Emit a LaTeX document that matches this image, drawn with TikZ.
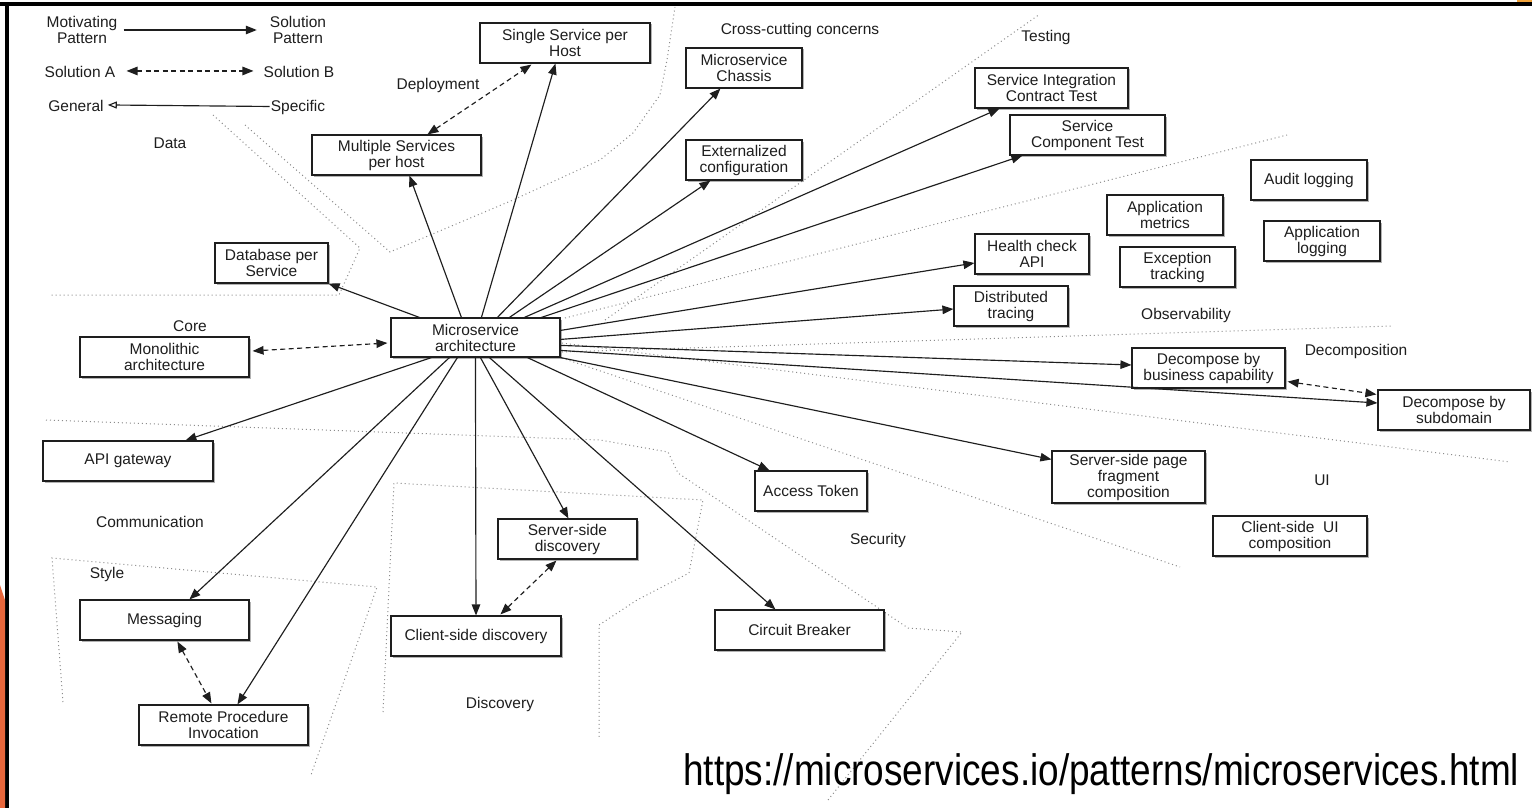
\documentclass[tikz,border=0pt]{standalone}
\usepackage{fontspec}
\setmainfont{Liberation Sans}
\usetikzlibrary{arrows.meta,shadows}
\definecolor{ink}{HTML}{1E1E1E}
\definecolor{zone}{HTML}{8C8C8C}
\definecolor{slideorange}{HTML}{E8673C}
\definecolor{slideyellow}{HTML}{F2A33A}

\begin{document}
\begin{tikzpicture}[x=1pt,y=-1pt,
  every node/.style={font=\fontsize{15.5}{16}\selectfont, text=ink},
  box/.style={draw=ink, line width=1.15pt, fill=white, align=center, inner sep=2pt,
    drop shadow={shadow xshift=1.5pt, shadow yshift=-1.5pt, opacity=0.3, fill=black}},
  bx/.style 2 args={box, minimum width=#1, minimum height=#2},
  tag/.style={inner sep=1pt, align=center},
  zoneline/.style={draw=zone, line width=1pt, dash pattern=on 1pt off 3pt},
  tip/.tip={Triangle[length=11pt,width=8.5pt]},
  link/.style={draw=ink, line width=1.15pt, -tip},
  alt/.style={draw=ink, line width=1.15pt, dash pattern=on 5pt off 3.5pt, tip-tip},
]
\useasboundingbox (0,0) rectangle (1532,808);
\fill[white] (0,0) rectangle (1532,808);

% slide frame
\fill[black] (0,2) rectangle (1532,6);
\fill[black] (5,2) rectangle (9,808);
\fill[slideorange] (0,585) -- (5,600) -- (5,808) -- (0,808) -- cycle;
\fill[slideyellow] (1517,0) rectangle (1532,2);

% zone borders
\draw[zoneline] (213,115) -- (360,248) -- (339,295) -- (50,295);
\draw[zoneline] (245,125) -- (390,252) -- (513,200) -- (600,160) -- (633,133) -- (660,95) -- (667,60) -- (675,7);
\draw[zoneline] (605,320) -- (1040,14);
\draw[zoneline] (565,318) -- (1287,135);
\draw[zoneline] (562,352) -- (1392,326);
\draw[zoneline] (562,343) -- (1510,462);
\draw[zoneline] (562,358) -- (1180,567);
\draw[zoneline] (46,420) -- (600,440) -- (668,452) -- (678,473) -- (908,628) -- (962,632) -- (828,800);
\draw[zoneline] (383,712) -- (394,483) -- (703,500) -- (689,573) -- (637,600) -- (599,625) -- (599,737);
\draw[zoneline] (63,702) -- (52,558) -- (377,587) -- (311,775);

% legend
\node[tag, inner sep=3pt] (mot) at (82,30) {Motivating\\Pattern};
\node[tag, inner sep=3pt] (sol) at (298,30) {Solution\\Pattern};
\node[tag, anchor=base] (sola) at (80,77.5) {Solution A};
\node[tag, anchor=base] (solb) at (299,77.5) {Solution B};
\node[tag, anchor=base] (gen) at (76,111.5) {General};
\node[tag, anchor=base] (spec) at (298,111.5) {Specific};
\draw[link] ([xshift=3pt]mot.east) -- ([xshift=-10pt]sol.west);
\draw[alt] ([xshift=10pt,yshift=1pt]sola.east) -- ([xshift=-9pt,yshift=1pt]solb.west);
\draw[draw=ink, line width=1.15pt, -{Triangle[open,length=9pt,width=7pt]}] ([yshift=1pt]spec.west) -- ([xshift=3pt,yshift=1pt]gen.east);

% zone titles
\node[tag] (tData) at (170,143) {Data};
\node[tag] (tDeploy) at (438,85) {Deployment};
\node[tag] (tCross) at (800,30) {Cross-cutting concerns};
\node[tag] (tTest) at (1046,37) {Testing};
\node[tag] (tCore) at (190,326) {Core};
\node[tag] (tComm) at (150,522) {Communication};
\node[tag] (tStyle) at (107,574) {Style};
\node[tag] (tDisc) at (500,704) {Discovery};
\node[tag] (tSec) at (878,540) {Security};
\node[tag] (tUI) at (1322,480) {UI};
\node[tag] (tObs) at (1186,315) {Observability};
\node[tag] (tDecomp) at (1356,351) {Decomposition};

% patterns
\node[bx={169pt}{39pt}] (ms) at (475.5,337.5) {Microservice\\architecture};
\node[bx={113pt}{40pt}] (db) at (271.5,263) {Database per\\Service};
\node[bx={169pt}{40pt}] (mono) at (164.5,357) {Monolithic\\architecture};
\node[bx={169pt}{40pt}] (multi) at (396.5,155) {Multiple Services\\per host};
\node[bx={170pt}{40pt}] (ssh) at (565,43) {Single Service per\\Host};
\node[bx={116pt}{40pt}] (chassis) at (744,68) {Microservice\\Chassis};
\node[bx={116pt}{40pt}] (extcfg) at (744,160) {Externalized\\configuration};
\node[bx={153pt}{40pt}] (sict) at (1051.5,88) {Service Integration\\Contract Test};
\node[bx={155pt}{40pt}] (sct) at (1087.5,135) {Service\\Component Test};
\node[bx={116pt}{40pt}] (audit) at (1309,180) {Audit logging};
\node[bx={116pt}{40pt}] (appmet) at (1165,215) {Application\\metrics};
\node[bx={116pt}{40pt}] (applog) at (1322,241) {Application\\logging};
\node[bx={114pt}{40pt}] (health) at (1032,254) {Health check\\API};
\node[bx={115pt}{40pt}] (exc) at (1177.5,267) {Exception\\tracking};
\node[bx={114pt}{40pt}] (dist) at (1011,306) {Distributed\\tracing};
\node[bx={153pt}{40pt}] (dbc) at (1208.5,368) {Decompose by\\business capability};
\node[bx={152pt}{40pt}] (dsd) at (1454,410) {Decompose by\\subdomain};
\node[bx={153pt}{52pt}] (sspf) at (1128.5,477) {Server-side page\\fragment\\composition};
\node[bx={154pt}{40pt}] (csui) at (1290,536) {Client-side~ UI\\composition};
\node[bx={112pt}{40pt}] (access) at (811,491) {Access Token};
\node[bx={169pt}{40pt}] (circuit) at (799.5,630) {Circuit Breaker};
\node[bx={139pt}{40pt}] (ssd) at (567.5,539) {Server-side\\discovery};
\node[bx={170pt}{40pt}] (csd) at (476,636) {Client-side discovery};
\node[bx={170pt}{40pt}] (api) at (128,461) {API gateway};
\node[bx={169pt}{40pt}] (msg) at (164.5,620) {Messaging};
\node[bx={169pt}{40pt}] (rpi) at (223.5,725) {Remote Procedure\\Invocation};

% links from the microservice architecture
\draw[link] ([xshift=29pt]ms.north west) -- (db.south east);
\draw[link] ([xshift=71pt]ms.north west) -- ([xshift=98pt]multi.south west);
\draw[link] ([xshift=91pt]ms.north west) -- ([xshift=76pt]ssh.south west);
\draw[link] ([xshift=107pt]ms.north west) -- ([xshift=35pt]chassis.south west);
\draw[link] ([xshift=119pt]ms.north west) -- ([xshift=25pt]extcfg.south west);
\draw[link] ([xshift=134pt]ms.north west) -- ([xshift=25pt]sict.south west);
\draw[link] ([xshift=151pt]ms.north west) -- ([xshift=13pt]sct.south west);
\draw[link] ([yshift=-13pt]ms.north east) -- ([yshift=-9pt]health.west);
\draw[link] ([yshift=-22pt]ms.north east) -- ([yshift=-3pt]dist.west);
\draw[link] ([yshift=-28pt]ms.north east) -- ([yshift=3pt]dbc.west);
\draw[link] ([yshift=-33pt]ms.north east) -- ([yshift=7pt]dsd.west);
\draw[link] (ms.south east) -- ([yshift=-9pt]sspf.north west);
\draw[link] ([xshift=137pt]ms.south west) -- ([xshift=15pt]access.north west);
\draw[link] ([xshift=99pt]ms.south west) -- ([xshift=61pt]circuit.north west);
\draw[link] ([xshift=90pt]ms.south west) -- ([xshift=71pt]ssd.north west);
\draw[link] ([xshift=85pt]ms.south west) -- (csd.north);
\draw[link] ([xshift=67pt]ms.south west) -- ([xshift=99pt]rpi.north west);
\draw[link] ([xshift=59pt]ms.south west) -- ([xshift=110pt]msg.north west);
\draw[link] ([xshift=41pt]ms.south west) -- ([xshift=143pt]api.north west);

% alternatives
\draw[alt] ([xshift=3pt,yshift=6pt]mono.east) -- ([xshift=-3pt,yshift=-5.5pt]ms.west);
\draw[alt] ([xshift=116pt]multi.north west) -- ([xshift=52pt,yshift=-1pt]ssh.south west);
\draw[alt] ([xshift=59pt,yshift=-1pt]ssd.south west) -- ([xshift=110pt,yshift=1pt]csd.north west);
\draw[alt] ([xshift=98pt,yshift=-1pt]msg.south west) -- ([xshift=73pt,yshift=1pt]rpi.north west);
\draw[alt] ([xshift=2pt,yshift=7pt]dbc.south east) -- ([xshift=-1pt,yshift=-5pt]dsd.north west);

% source
\node[anchor=base west, inner sep=0pt, text=black] (url) at (683,785)
  {\scalebox{0.84}[1]{\fontsize{44}{48}\selectfont https://microservices.io/patterns/microservices.html}};
\end{tikzpicture}
\end{document}
